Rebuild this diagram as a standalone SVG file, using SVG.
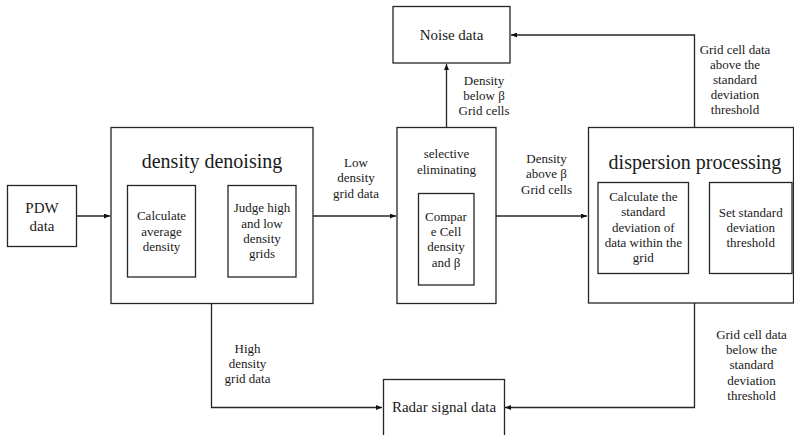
<svg xmlns="http://www.w3.org/2000/svg" width="794" height="435" viewBox="0 0 794 435">
  <style>
    .box { fill: #ffffff; stroke: #262626; stroke-width: 1.3; }
    .wire { fill: none; stroke: #262626; stroke-width: 1.3; }
    text { font-family: "Liberation Serif", Tinos, "Times New Roman", Times, "Nimbus Roman", "DejaVu Serif", "Noto Serif", serif; fill: #1a1a1a; text-anchor: middle; }
    .t13 { font-size: 13px; }
    .t15 { font-size: 15px; }
    .t20 { font-size: 20px; }
  </style>
  <defs>
    <marker id="arrow" viewBox="0 0 6 5" refX="6" refY="2.5" markerWidth="6" markerHeight="5" markerUnits="userSpaceOnUse" orient="auto">
      <path d="M0,0 L6,2.5 L0,5 z" fill="#111111"/>
    </marker>
  </defs>
  <rect width="794" height="435" fill="#ffffff"/>

  <!-- connectors -->
  <g id="connectors">
    <path class="wire" d="M76,216 H110" marker-end="url(#arrow)"/>
    <path class="wire" d="M313,216 H396" marker-end="url(#arrow)"/>
    <path class="wire" d="M496,216 H587" marker-end="url(#arrow)"/>
    <path class="wire" d="M446.5,127 V64" marker-end="url(#arrow)"/>
    <path class="wire" d="M694.5,127 V35 H511" marker-end="url(#arrow)"/>
    <path class="wire" d="M211.5,303 V407.5 H382" marker-end="url(#arrow)"/>
    <path class="wire" d="M694.5,303 V407.5 H505" marker-end="url(#arrow)"/>

    <text class="t13"><tspan x="356" y="167">Low</tspan><tspan x="356" y="182.3">density</tspan><tspan x="356" y="197.6">grid data</tspan></text>
    <text class="t13"><tspan x="546.5" y="163">Density</tspan><tspan x="546.5" y="178.3">above β</tspan><tspan x="546.5" y="193.6">Grid cells</tspan></text>
    <text class="t13"><tspan x="484" y="84.5">Density</tspan><tspan x="484" y="99.8">below β</tspan><tspan x="484" y="115.1">Grid cells</tspan></text>
    <text class="t13"><tspan x="735" y="53.5">Grid cell data</tspan><tspan x="735" y="68.5">above the</tspan><tspan x="735" y="83.5">standard</tspan><tspan x="735" y="98.5">deviation</tspan><tspan x="735" y="113.5">threshold</tspan></text>
    <text class="t13"><tspan x="247.5" y="353.3">High</tspan><tspan x="247.5" y="368.3">density</tspan><tspan x="247.5" y="383.3">grid data</tspan></text>
    <text class="t13"><tspan x="751.5" y="338.5">Grid cell data</tspan><tspan x="751.5" y="353.9">below the</tspan><tspan x="751.5" y="369.3">standard</tspan><tspan x="751.5" y="384.7">deviation</tspan><tspan x="751.5" y="400">threshold</tspan></text>
  </g>

  <!-- input -->
  <g id="pdw">
    <rect class="box" x="7.5" y="185.5" width="69" height="61"/>
    <text class="t15"><tspan x="42" y="212.7">PDW</tspan><tspan x="42" y="231">data</tspan></text>
  </g>

  <!-- density denoising stage -->
  <g id="density-denoising">
    <rect class="box" x="111" y="127.5" width="202" height="176"/>
    <text class="t20" x="212" y="167.5">density denoising</text>
    <g id="average-density">
      <rect class="box" x="127.5" y="185.5" width="68" height="91.5"/>
      <text class="t13"><tspan x="161.5" y="220.3">Calculate</tspan><tspan x="161.5" y="235.6">average</tspan><tspan x="161.5" y="250.9">density</tspan></text>
    </g>
    <g id="judge-grids">
      <rect class="box" x="228" y="185.5" width="68" height="91.5"/>
      <text class="t13"><tspan x="262" y="212.3">Judge high</tspan><tspan x="262" y="227.6">and low</tspan><tspan x="262" y="242.9">density</tspan><tspan x="262" y="258.2">grids</tspan></text>
    </g>
  </g>

  <!-- selective eliminating stage -->
  <g id="selective-eliminating">
    <rect class="box" x="397" y="127.5" width="99" height="176"/>
    <text class="t13"><tspan x="446.5" y="158.3">selective</tspan><tspan x="446.5" y="174">eliminating</tspan></text>
    <g id="compare-cell">
      <rect class="box" x="418.5" y="193.5" width="55.5" height="91.5"/>
      <text class="t13"><tspan x="446" y="220.8">Compar</tspan><tspan x="446" y="236.1">e Cell</tspan><tspan x="446" y="251.4">density</tspan><tspan x="446" y="266.7">and  β</tspan></text>
    </g>
  </g>

  <!-- dispersion processing stage -->
  <g id="dispersion-processing">
    <rect class="box" x="588.5" y="127.5" width="205" height="175.5"/>
    <text class="t20" x="695" y="169">dispersion processing</text>
    <g id="std-deviation">
      <rect class="box" x="598" y="182.5" width="90.5" height="91"/>
      <text class="t13"><tspan x="643.3" y="201">Calculate the</tspan><tspan x="643.3" y="216.3">standard</tspan><tspan x="643.3" y="231.6">deviation of</tspan><tspan x="643.3" y="246.9">data within the</tspan><tspan x="643.3" y="262.2">grid</tspan></text>
    </g>
    <g id="std-threshold">
      <rect class="box" x="709.5" y="182.5" width="82.5" height="91"/>
      <text class="t13"><tspan x="750.7" y="216.5">Set standard</tspan><tspan x="750.7" y="231.8">deviation</tspan><tspan x="750.7" y="247.1">threshold</tspan></text>
    </g>
  </g>

  <!-- outputs -->
  <g id="noise-data">
    <rect class="box" x="393" y="6.5" width="117" height="56.5"/>
    <text class="t15" x="451.5" y="39.5">Noise data</text>
  </g>
  <g id="radar-signal-data">
    <rect class="box" x="383.5" y="379.5" width="121" height="62"/>
    <text class="t15" x="444" y="412.3">Radar signal data</text>
  </g>
</svg>
